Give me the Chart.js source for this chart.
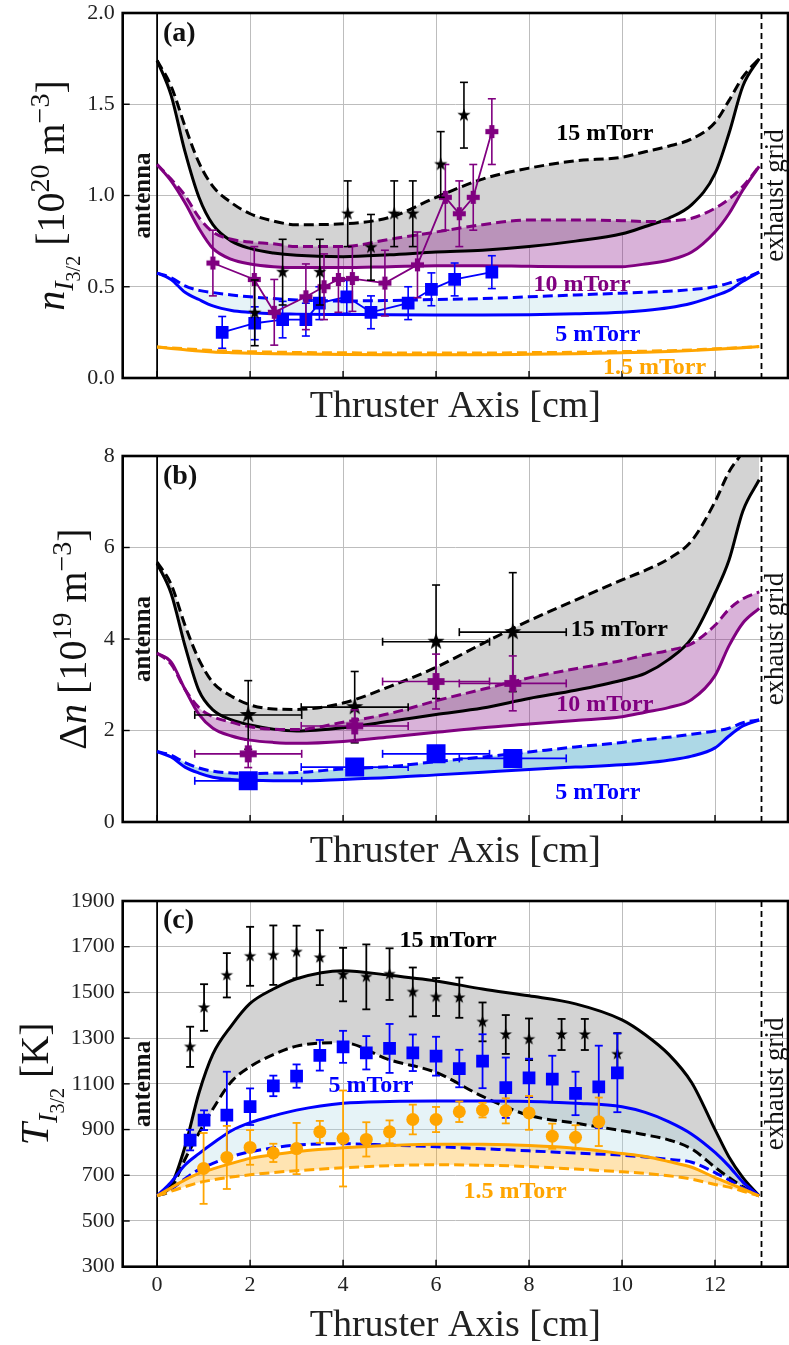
<!DOCTYPE html>
<html><head><meta charset="utf-8">
<script src="https://cdn.jsdelivr.net/npm/chart.js@4/dist/chart.umd.min.js"></script>
<style>
html,body{margin:0;padding:0;background:#fff;}
#wrap{position:relative;width:789px;height:1345px;overflow:hidden;}
canvas{position:absolute;left:0;display:block;}
</style></head><body>
<div id="wrap">
<canvas id="ca" width="789" height="440" style="top:0"></canvas>
<canvas id="cb" width="789" height="440" style="top:440px"></canvas>
<canvas id="cc" width="789" height="465" style="top:880px"></canvas>
</div>
<script>
// ---------- data ----------
const xTicks = [0, 2, 4, 6, 8, 10, 12];
const aYTicks = [0, 0.5, 1.0, 1.5, 2.0];
const bYTicks = [0, 2, 4, 6, 8];
const cYTicks = [300, 500, 700, 900, 1100, 1300, 1500, 1700, 1900];

const modelX = [0, 0.3, 0.6, 0.9, 1.2, 1.6, 2, 2.5, 3, 4, 5, 6, 7, 8, 9, 10, 10.5, 11, 11.5, 12, 12.3, 12.6, 12.95];

// panel (a): n_I3/2 [1e20 m^-3]
const a15Solid  = [1.74,1.55,1.24,0.99,0.84,0.75,0.71,0.685,0.672,0.665,0.675,0.69,0.70,0.72,0.75,0.79,0.83,0.875,0.95,1.12,1.34,1.60,1.75];
const a15Dashed = [1.74,1.60,1.38,1.18,1.05,0.96,0.90,0.86,0.84,0.845,0.88,0.99,1.09,1.15,1.19,1.21,1.24,1.27,1.31,1.40,1.52,1.65,1.75];
const a10Solid  = [1.17,1.08,0.96,0.82,0.71,0.65,0.625,0.61,0.605,0.605,0.61,0.615,0.615,0.612,0.61,0.61,0.625,0.645,0.69,0.80,0.90,1.03,1.16];
const a10Dashed = [1.17,1.09,1.00,0.88,0.80,0.76,0.745,0.735,0.72,0.72,0.76,0.80,0.84,0.866,0.866,0.862,0.857,0.86,0.875,0.93,0.98,1.05,1.16];
const a5Solid   = [0.575,0.54,0.47,0.43,0.395,0.37,0.36,0.352,0.35,0.348,0.346,0.345,0.345,0.347,0.352,0.36,0.37,0.385,0.41,0.45,0.48,0.53,0.58];
const a5Dashed  = [0.575,0.55,0.505,0.48,0.468,0.455,0.445,0.435,0.428,0.422,0.425,0.43,0.435,0.445,0.455,0.465,0.47,0.475,0.485,0.50,0.52,0.545,0.58];
const a1p5Solid = [0.17,0.162,0.155,0.148,0.143,0.139,0.136,0.133,0.131,0.129,0.128,0.128,0.128,0.13,0.133,0.138,0.141,0.145,0.15,0.157,0.161,0.166,0.172];
const a1p5Dashed= [0.17,0.165,0.16,0.155,0.15,0.147,0.144,0.142,0.14,0.138,0.137,0.137,0.137,0.139,0.141,0.145,0.147,0.15,0.154,0.16,0.163,0.167,0.172];

const aStarX = [2.1,2.7,3.5,4.1,4.6,5.1,5.5,6.1,6.6];
const aStarY = [0.357,0.58,0.58,0.90,0.716,0.90,0.90,1.17,1.44];
const aStarErr = [0.18,0.18,0.18,0.18,0.18,0.18,0.18,0.18,0.18];
const aPlusX = [1.2,2.09,2.52,3.2,3.59,3.9,4.2,4.9,5.6,6.2,6.5,6.8,7.2];
const aPlusY = [0.63,0.54,0.36,0.445,0.50,0.54,0.545,0.52,0.62,0.99,0.90,0.99,1.35];
const aPlusErr = [0.18,0.18,0.18,0.18,0.18,0.18,0.18,0.18,0.18,0.18,0.18,0.18,0.18];
const aSqX = [1.4,2.1,2.7,3.2,3.49,4.08,4.6,5.4,5.9,6.4,7.2];
const aSqY = [0.25,0.30,0.32,0.32,0.41,0.445,0.36,0.41,0.486,0.54,0.58];
const aSqErr = [0.087,0.09,0.1,0.09,0.09,0.09,0.09,0.09,0.09,0.09,0.09];

// panel (b): Delta n [1e19 m^-3]
const b15Solid  = [5.65,5.0,3.85,2.87,2.45,2.23,2.12,2.03,1.99,2.06,2.2,2.35,2.49,2.7,2.88,3.1,3.25,3.55,4.02,5.0,5.72,6.8,7.48];
const b15Dashed = [5.68,5.2,4.3,3.55,3.05,2.75,2.56,2.47,2.46,2.6,2.96,3.38,3.9,4.4,4.85,5.29,5.5,5.75,6.15,7.0,7.65,8.1,8.8];
const b10Solid  = [3.69,3.5,2.9,2.35,2.05,1.88,1.79,1.74,1.72,1.76,1.86,1.96,2.06,2.14,2.22,2.3,2.4,2.5,2.68,3.2,3.85,4.35,4.67];
const b10Dashed = [3.69,3.45,2.9,2.5,2.3,2.18,2.08,2.03,2.02,2.18,2.37,2.65,2.9,3.15,3.35,3.53,3.65,3.75,3.9,4.3,4.65,4.88,5.03];
const b5Solid   = [1.54,1.42,1.2,1.07,0.98,0.93,0.91,0.9,0.9,0.93,0.97,1.03,1.09,1.15,1.2,1.25,1.29,1.35,1.44,1.62,1.88,2.1,2.23];
const b5Dashed  = [1.54,1.46,1.3,1.18,1.11,1.07,1.06,1.07,1.08,1.16,1.21,1.32,1.42,1.53,1.64,1.74,1.8,1.85,1.92,1.99,2.05,2.17,2.23];

const bExpX = [1.96,4.25,6.0,7.65];
const bExpXErr = [1.15,1.15,1.15,1.15];
const bStarY = [2.34,2.51,3.94,4.15];
const bStarErr = [0.75,0.78,1.24,1.3];
const bPlusY = [1.49,2.10,3.07,3.03];
const bPlusErr = [0.3,0.35,0.6,0.6];
const bSqY = [0.90,1.20,1.49,1.39];
const bSqErr = [0.08,0.1,0.1,0.1];

// panel (c): T_I3/2 [K]
const c15Solid  = [610,655,825,1060,1230,1355,1452,1515,1560,1595,1575,1550,1515,1485,1450,1380,1315,1230,1105,900,780,690,610];
const c15Dashed = [610,640,770,885,990,1110,1175,1228,1265,1280,1205,1150,1045,962,928,895,877,855,815,735,690,650,610];
const c5Solid   = [610,670,745,795,840,895,930,960,985,1015,1023,1025,1025,1023,1015,1000,975,935,880,800,740,670,610];
const c5Dashed  = [610,640,685,725,752,782,803,820,832,838,832,825,816,807,797,788,780,770,757,712,680,645,610];
const c1p5Solid = [610,645,680,708,728,752,774,790,803,820,830,836,836,830,818,795,782,760,735,690,665,640,610];
const c1p5Dashed= [610,630,650,668,680,692,702,712,720,733,742,746,744,738,727,715,708,698,683,660,648,630,610];

const cStarX = [0.71,1.01,1.5,2.0,2.5,3.0,3.5,4.0,4.5,5.0,5.5,6.0,6.5,7.0,7.5,8.0,8.7,9.2,9.9];
const cStarY = [1262,1434,1575,1658,1663,1677,1652,1578,1568,1580,1502,1480,1477,1371,1316,1295,1316,1316,1230];
const cStarErr = [88,102,97,129,130,115,120,117,142,113,107,83,88,85,85,91,68,68,92];
const cSqX = [0.71,1.01,1.5,2.0,2.5,3.0,3.5,4.0,4.5,5.0,5.5,6.0,6.5,7.0,7.5,8.0,8.5,9.0,9.5,9.9];
const cSqY = [854,941,963,1000,1091,1134,1225,1262,1236,1255,1236,1221,1167,1199,1083,1126,1121,1058,1087,1148];
const cSqErr = [45,43,190,80,45,51,67,70,73,107,80,85,82,118,132,84,102,95,180,172];
const cCircX = [1.0,1.5,2.0,2.5,3.0,3.5,4.0,4.5,5.0,5.5,6.0,6.5,7.0,7.5,8.0,8.5,9.0,9.5];
const cCircY = [730,778,822,798,817,890,861,857,890,944,944,978,985,982,973,871,866,934];
const cCircErr = [155,138,76,40,112,48,210,75,50,65,55,45,32,55,74,55,53,106];

// ---------- helpers ----------
const SERIF = '"Liberation Serif", "DejaVu Serif", serif';
const X_MIN = -0.74, X_MAX = 13.57, ANTENNA_X = 0, GRID_X = 13;
const BLACK = '#000000', PURPLE = '#800080', BLUE = '#0000ff', ORANGE = '#ffa500';

function pts(xs, ys) { return xs.map((x, i) => ({x: x, y: ys[i]})); }

function makeStar(d, color) {
  const c = document.createElement('canvas');
  c.width = c.height = Math.ceil(d) + 2;
  const g = c.getContext('2d');
  const cx = c.width / 2, cy = c.height / 2, R = d / 2, r = R * 0.4;
  g.beginPath();
  for (let i = 0; i < 10; i++) {
    const a = -Math.PI / 2 + i * Math.PI / 5, rr = (i % 2) ? r : R;
    g.lineTo(cx + rr * Math.cos(a), cy + rr * Math.sin(a));
  }
  g.closePath(); g.fillStyle = color; g.fill();
  return c;
}
function makePlus(d, color) {
  const c = document.createElement('canvas');
  c.width = c.height = Math.ceil(d) + 2;
  const g = c.getContext('2d');
  const cx = c.width / 2, cy = c.height / 2, t = d * 0.4;
  g.fillStyle = color;
  g.fillRect(cx - t / 2, cy - d / 2, t, d);
  g.fillRect(cx - d / 2, cy - t / 2, d, t);
  return c;
}

function modelPair(solid, dashed, color, fillColor, baseIndex) {
  return [
    {data: pts(modelX, dashed), borderColor: color, borderWidth: 3, borderDash: [10, 5],
     pointRadius: 0, cubicInterpolationMode: 'monotone', fill: baseIndex + 1, backgroundColor: fillColor},
    {data: pts(modelX, solid), borderColor: color, borderWidth: 3,
     pointRadius: 0, cubicInterpolationMode: 'monotone', fill: false}
  ];
}
function expSet(xs, ys, errY, errX, color, style, radius, showLine, errW) {
  return {data: pts(xs, ys), errY: errY, errX: errX, errColor: color, errWidth: errW,
    showLine: showLine, borderColor: color, borderWidth: 1.8, fill: false,
    pointStyle: style, pointRadius: radius, pointBackgroundColor: color,
    pointBorderColor: color, pointBorderWidth: 0, tension: 0};
}

function drawRich(ctx, pieces) {
  let total = 0;
  pieces.forEach(p => { ctx.font = p.f; p.w = ctx.measureText(p.t).width; total += p.w; });
  let x = -total / 2;
  pieces.forEach(p => { ctx.font = p.f; ctx.fillText(p.t, x, p.dy || 0); x += p.w; });
}

function overlay(cfg) {
  return {
    id: 'overlay',
    beforeDatasetsDraw(chart) {
      const {ctx, chartArea: a} = chart, xs = chart.scales.x;
      ctx.save();
      ctx.strokeStyle = '#000';
      ctx.lineWidth = 1.8;
      const x0 = xs.getPixelForValue(ANTENNA_X);
      ctx.beginPath(); ctx.moveTo(x0, a.top); ctx.lineTo(x0, a.bottom); ctx.stroke();
      const x1 = xs.getPixelForValue(GRID_X);
      ctx.lineWidth = 1.8; ctx.setLineDash([6, 4]);
      ctx.beginPath(); ctx.moveTo(x1, a.top); ctx.lineTo(x1, a.bottom); ctx.stroke();
      ctx.restore();
    },
    beforeDatasetDraw(chart, args) {
      const ds = chart.data.datasets[args.index];
      if (!ds.errY && !ds.errX) return;
      const {ctx} = chart, xs = chart.scales.x, ys = chart.scales.y, cap = 4;
      ctx.save();
      ctx.strokeStyle = ds.errColor; ctx.lineWidth = ds.errWidth; ctx.setLineDash([]);
      const seg = (x1, y1, x2, y2) => { ctx.beginPath(); ctx.moveTo(x1, y1); ctx.lineTo(x2, y2); ctx.stroke(); };
      ds.data.forEach((p, i) => {
        const px = xs.getPixelForValue(p.x), py = ys.getPixelForValue(p.y);
        if (ds.errY) {
          const t = ys.getPixelForValue(p.y + ds.errY[i]), b = ys.getPixelForValue(p.y - ds.errY[i]);
          seg(px, t, px, b); seg(px - cap, t, px + cap, t); seg(px - cap, b, px + cap, b);
        }
        if (ds.errX) {
          const l = xs.getPixelForValue(p.x - ds.errX[i]), r = xs.getPixelForValue(p.x + ds.errX[i]);
          seg(l, py, r, py); seg(l, py - cap, l, py + cap); seg(r, py - cap, r, py + cap);
        }
      });
      ctx.restore();
    },
    afterDraw(chart) {
      const {ctx, chartArea: a} = chart, xs = chart.scales.x, ys = chart.scales.y;
      ctx.save();
      // inward ticks
      ctx.strokeStyle = '#000'; ctx.lineWidth = 1.4;
      xs.ticks.forEach(t => { const px = xs.getPixelForValue(t.value); ctx.beginPath(); ctx.moveTo(px, a.bottom); ctx.lineTo(px, a.bottom - 7); ctx.stroke(); });
      ys.ticks.forEach(t => { const py = ys.getPixelForValue(t.value); ctx.beginPath(); ctx.moveTo(a.left, py); ctx.lineTo(a.left + 7, py); ctx.stroke(); });
      // frame
      ctx.lineWidth = 2.6;
      ctx.strokeRect(a.left, a.top, a.right - a.left, a.bottom - a.top);
      // panel letter
      ctx.fillStyle = '#111'; ctx.textAlign = 'left'; ctx.textBaseline = 'alphabetic';
      ctx.font = 'bold 28px ' + SERIF;
      ctx.fillText(cfg.letter, 163, a.top + cfg.letterDy);
      // antenna / exhaust grid
      const cy = (a.top + a.bottom) / 2;
      ctx.save(); ctx.translate(150, cy); ctx.rotate(-Math.PI / 2);
      ctx.textAlign = 'center'; ctx.font = 'bold 25px ' + SERIF; ctx.fillText('antenna', 0, 0);
      ctx.restore();
      ctx.save(); ctx.translate(783, cy); ctx.rotate(-Math.PI / 2);
      ctx.textAlign = 'center'; ctx.font = '27px ' + SERIF; ctx.fillText('exhaust grid', 0, 0);
      ctx.restore();
      // series labels
      ctx.textAlign = 'center'; ctx.textBaseline = 'middle'; ctx.font = 'bold 24px ' + SERIF;
      cfg.labels.forEach(l => { ctx.fillStyle = l.c; ctx.fillText(l.t, xs.getPixelForValue(l.x), ys.getPixelForValue(l.y)); });
      // y title
      ctx.fillStyle = '#111'; ctx.textAlign = 'left'; ctx.textBaseline = 'alphabetic';
      ctx.save(); ctx.translate(cfg.yTitleX, cy); ctx.rotate(-Math.PI / 2);
      drawRich(ctx, cfg.yTitle);
      ctx.restore();
      ctx.restore();
    }
  };
}

function makeChart(id, cfg) {
  return new Chart(document.getElementById(id), {
    type: 'line',
    data: {datasets: cfg.datasets},
    options: {
      responsive: false, animation: false, events: [],
      layout: {autoPadding: false, padding: {top: cfg.padTop, right: 1, bottom: 0, left: 0}},
      plugins: {legend: {display: false}, tooltip: {enabled: false},
                filler: {drawTime: 'beforeDatasetsDraw', propagate: false}},
      scales: {
        x: {type: 'linear', min: X_MIN, max: X_MAX,
            afterBuildTicks: s => { s.ticks = xTicks.map(v => ({value: v})); },
            afterFit: s => { s.height = cfg.xAxisH; s.paddingLeft = 0; s.paddingRight = 0; s.paddingTop = 0; s.paddingBottom = 0; },
            grid: {color: '#bdbdbd', lineWidth: 1, drawTicks: false},
            border: {display: false},
            ticks: {display: cfg.showX, autoSkip: false, maxRotation: 0, padding: 5,
                    font: {family: SERIF, size: 22}, color: '#222'},
            title: {display: true, text: 'Thruster Axis [cm]', color: '#222',
                    font: {family: SERIF, size: 38, lineHeight: 1},
                    padding: {top: 0, bottom: cfg.titlePad}}},
        y: {type: 'linear', min: cfg.yMin, max: cfg.yMax,
            afterBuildTicks: s => { s.ticks = cfg.yTicks.map(v => ({value: v})); },
            afterFit: s => { s.width = 122.7; s.paddingTop = 0; s.paddingBottom = 0; s.paddingLeft = 0; s.paddingRight = 0; },
            grid: {color: '#bdbdbd', lineWidth: 1, drawTicks: false},
            border: {display: false},
            ticks: {autoSkip: false, padding: 8, font: {family: SERIF, size: 22}, color: '#222',
                    callback: cfg.yFmt}}
      }
    },
    plugins: [overlay(cfg)]
  });
}

const F40 = '40px ' + SERIF, I40 = 'italic 40px ' + SERIF, F28 = '28px ' + SERIF, I28 = 'italic 28px ' + SERIF, F20 = '20px ' + SERIF;

// ---------- panel (a) ----------
const aSets = [
  expSet(aStarX, aStarY, aStarErr, null, BLACK, makeStar(14, BLACK), 5, false, 1.6),
  expSet(aPlusX, aPlusY, aPlusErr, null, PURPLE, makePlus(13, PURPLE), 5, true, 1.6),
  expSet(aSqX, aSqY, aSqErr, null, BLUE, 'rect', 9, true, 1.6),
  ...modelPair(a1p5Solid, a1p5Dashed, ORANGE, 'rgba(255,165,0,0.3)', 3),
  ...modelPair(a5Solid, a5Dashed, BLUE, 'rgba(173,216,230,0.3)', 5),
  ...modelPair(a10Solid, a10Dashed, PURPLE, 'rgba(128,0,128,0.3)', 7),
  ...modelPair(a15Solid, a15Dashed, BLACK, 'rgba(211,211,211,1)', 9)
];
makeChart('ca', {
  datasets: aSets, padTop: 13, xAxisH: 62, titlePad: 14, showX: false,
  yMin: 0, yMax: 2, yTicks: aYTicks, yFmt: v => Number(v).toFixed(1),
  letter: '(a)', letterDy: 28, yTitleX: 64,
  yTitle: [{t: 'n', f: I40}, {t: 'I', f: I28, dy: 9}, {t: '3/2', f: F20, dy: 16},
           {t: ' [10', f: F40}, {t: '20', f: F28, dy: -15}, {t: ' m', f: F40}, {t: '\u22123', f: F28, dy: -15}, {t: ']', f: F40}],
  labels: [{t: '15 mTorr', x: 9.63, y: 1.34, c: BLACK}, {t: '10 mTorr', x: 9.14, y: 0.51, c: PURPLE},
           {t: '5 mTorr', x: 9.48, y: 0.235, c: BLUE}, {t: '1.5 mTorr', x: 10.7, y: 0.055, c: ORANGE}]
});

// ---------- panel (b) ----------
const bSets = [
  expSet(bExpX, bSqY, bSqErr, bExpXErr, BLUE, 'rect', 13.4, false, 1.6),
  expSet(bExpX, bPlusY, bPlusErr, bExpXErr, PURPLE, makePlus(17, PURPLE), 5, false, 1.6),
  expSet(bExpX, bStarY, bStarErr, bExpXErr, BLACK, makeStar(18, BLACK), 5, false, 1.6),
  ...modelPair(b5Solid, b5Dashed, BLUE, 'rgba(173,216,230,1)', 3),
  ...modelPair(b10Solid, b10Dashed, PURPLE, 'rgba(128,0,128,0.3)', 5),
  ...modelPair(b15Solid, b15Dashed, BLACK, 'rgba(211,211,211,1)', 7)
];
makeChart('cb', {
  datasets: bSets, padTop: 16, xAxisH: 58, titlePad: 9, showX: false,
  yMin: 0, yMax: 8, yTicks: bYTicks, yFmt: v => String(v),
  letter: '(b)', letterDy: 28, yTitleX: 86,
  yTitle: [{t: '\u0394', f: F40}, {t: 'n', f: I40}, {t: ' [10', f: F40}, {t: '19', f: F28, dy: -15},
           {t: ' m', f: F40}, {t: '\u22123', f: F28, dy: -15}, {t: ']', f: F40}],
  labels: [{t: '15 mTorr', x: 9.94, y: 4.2, c: BLACK}, {t: '10 mTorr', x: 9.63, y: 2.56, c: PURPLE},
           {t: '5 mTorr', x: 9.48, y: 0.63, c: BLUE}]
});

// ---------- panel (c) ----------
const cSets = [
  expSet(cCircX, cCircY, cCircErr, null, ORANGE, 'circle', 6.5, false, 1.8),
  expSet(cSqX, cSqY, cSqErr, null, BLUE, 'rect', 9, false, 1.8),
  expSet(cStarX, cStarY, cStarErr, null, BLACK, makeStar(13, BLACK), 5, false, 1.8),
  ...modelPair(c1p5Solid, c1p5Dashed, ORANGE, 'rgba(255,165,0,0.3)', 3),
  ...modelPair(c5Solid, c5Dashed, BLUE, 'rgba(173,216,230,0.3)', 5),
  ...modelPair(c15Solid, c15Dashed, BLACK, 'rgba(211,211,211,1)', 7)
];
makeChart('cc', {
  datasets: cSets, padTop: 21, xAxisH: 78.3, titlePad: 0, showX: true,
  yMin: 300, yMax: 1900, yTicks: cYTicks, yFmt: v => String(v),
  letter: '(c)', letterDy: 27, yTitleX: 48,
  yTitle: [{t: 'T', f: I40}, {t: 'I', f: I28, dy: 9}, {t: '3/2', f: F20, dy: 16}, {t: ' [K]', f: F40}],
  labels: [{t: '15 mTorr', x: 6.26, y: 1728, c: BLACK}, {t: '5 mTorr', x: 4.6, y: 1090, c: BLUE},
           {t: '1.5 mTorr', x: 7.7, y: 628, c: ORANGE}]
});
</script>
</body></html>
